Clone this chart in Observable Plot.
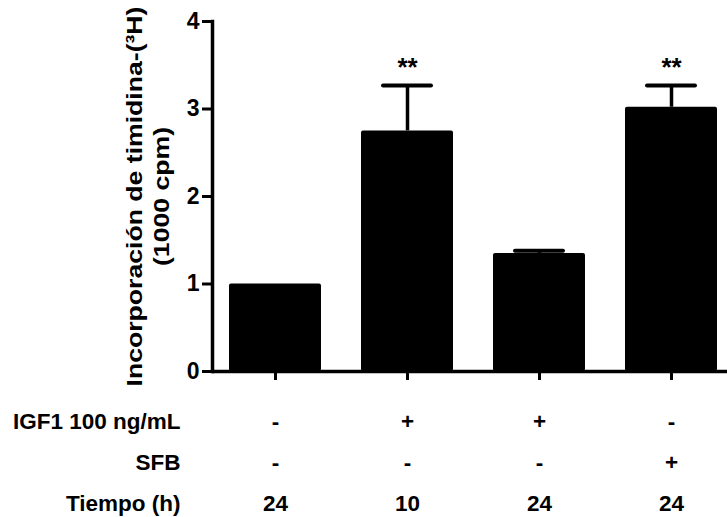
<!DOCTYPE html>
<html><head><meta charset="utf-8">
<script src="https://cdn.jsdelivr.net/npm/d3@7"></script>
<script src="https://cdn.jsdelivr.net/npm/@observablehq/plot@0.6"></script>
<style>body{margin:0;background:#fff}</style>
</head><body><div id="chart"></div>
<script>
const groups = ["G1", "G2", "G3", "G4"];
const means = [1.0, 2.75, 1.35, 3.02];
const errors = [0, 0.52, 0.03, 0.25];
const significance = ["", "**", "", "**"];
const igf1 = ["-", "+", "+", "-"];
const sfb = ["-", "-", "-", "+"];
const tiempo = ["24", "10", "24", "24"];
const rowLabels = ["IGF1 100 ng/mL", "SFB", "Tiempo (h)"];
const yTicks = [0, 1, 2, 3, 4];
const yLabel = "Incorporación de timidina-(³H)\n(1000 cpm)";

const data = groups.map((g, i) => ({
  g, mean: means[i], err: errors[i], top: means[i] + errors[i],
  sig: significance[i], igf1: igf1[i], sfb: sfb[i], t: tiempo[i]
}));
const rowKeys = ["igf1", "sfb", "t"];
const rowDy = [50, 91, 132];
const withErr = data.filter(d => d.err > 0);
const FF = "Arial, 'Liberation Sans', sans-serif";

const rowMarks = [];
rowKeys.forEach((k, i) => {
  rowMarks.push(Plot.text(data, {x: "g", y: d => 0, text: k, dy: rowDy[i], fontSize: 22.5, fontWeight: "bold", fill: "black"}));
  rowMarks.push(Plot.text([rowLabels[i]], {frameAnchor: "left", y: d => 0, text: d => d, textAnchor: "end", dx: -32, dy: rowDy[i], fontSize: 22.5, fontWeight: "bold", fill: "black"}));
});

const plot = Plot.plot({
  width: 727, height: 517,
  marginLeft: 212, marginRight: 0, marginTop: 21, marginBottom: 146,
  style: {fontFamily: FF, background: "white", color: "black"},
  x: {domain: groups, range: [209, 737], paddingInner: 0.3, paddingOuter: 0.15},
  y: {domain: [0, 4]},
  marks: [
    Plot.barY(data, {x: "g", y: "mean", fill: "black", rx: 2}),
    Plot.ruleX(withErr, {x: "g", y1: "mean", y2: "top", stroke: "black", strokeWidth: 3.5}),
    Plot.tickY(withErr, {x: "g", y: "top", stroke: "black", strokeWidth: 4, insetLeft: 22, insetRight: 22, strokeLinecap: "round"}),
    Plot.text(data.filter(d => d.sig), {x: "g", y: "top", text: "sig", dy: -18, fontSize: 26, fontWeight: "bold", fill: "black"}),
    Plot.axisY({ticks: yTicks, tickSize: 10, tickPadding: 3, strokeWidth: 3, fontSize: 23, fontWeight: "bold", label: null, tickFormat: d3.format("d"), fill: "black"}),
    Plot.axisX({tickSize: 9, strokeWidth: 3, tickFormat: () => "", label: null}),
    Plot.frame({anchor: "left", strokeWidth: 3.5}),
    Plot.ruleY([0], {strokeWidth: 3.5}),
    Plot.text([yLabel], {className: "ylab", frameAnchor: "left", rotate: -90, dx: -66, dy: 0, text: d => d, textAnchor: "middle", fontSize: 22, fontWeight: "bold", lineHeight: 1.22, lineAnchor: "middle", fill: "black"}),
    ...rowMarks
  ]
});
d3.select(plot).selectAll(".ylab text").attr("transform", function() {
  return (this.getAttribute("transform") || "") + " scale(1.21,1)";
});
document.getElementById("chart").appendChild(plot);
</script>
</body></html>
